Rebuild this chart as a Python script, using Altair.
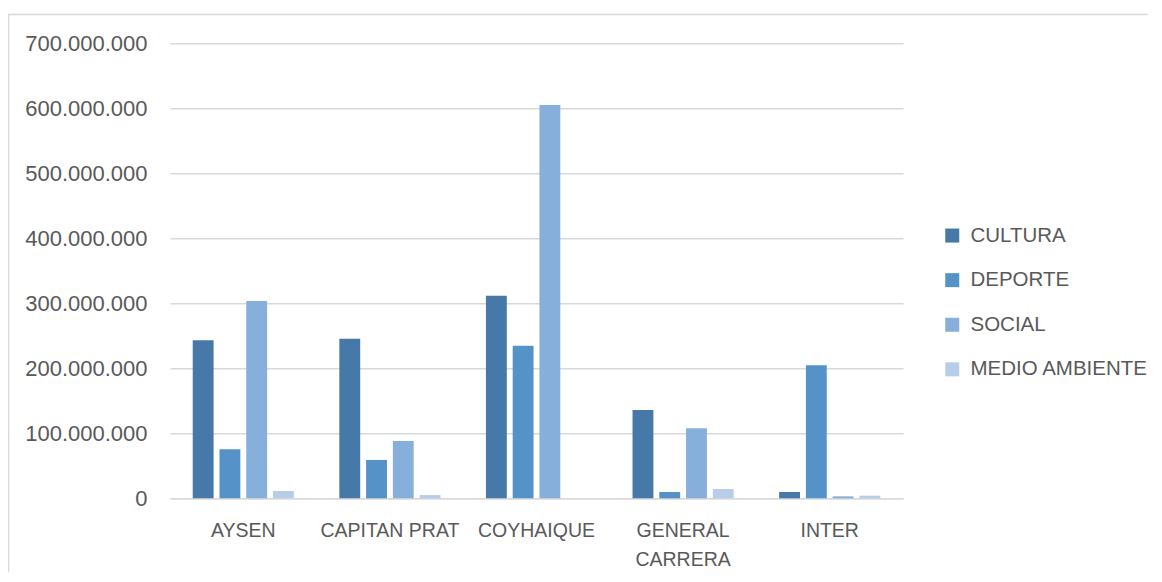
import altair as alt
import pandas as pd

categories = ["AYSEN", "CAPITAN PRAT", "COYHAIQUE", "GENERAL CARRERA", "INTER"]
series = ["CULTURA", "DEPORTE", "SOCIAL", "MEDIO AMBIENTE"]
cultura = [243000000, 245500000, 311700000, 136000000, 9700000]
deporte = [75500000, 59000000, 234800000, 9700000, 204600000]
social = [303500000, 88000000, 605000000, 107700000, 3000000]
medio_ambiente = [11200000, 5000000, 0, 14300000, 4000000]
colors = ["#4678a8", "#5592c8", "#86afdb", "#b8cee8"]
y_ticks = [0, 100000000, 200000000, 300000000, 400000000, 500000000, 600000000, 700000000]

rows = []
for s, vals in zip(series, [cultura, deporte, social, medio_ambiente]):
    for c, v in zip(categories, vals):
        rows.append({"comuna": c, "area": s, "monto": v})
df = pd.DataFrame(rows)

text_color = "#595959"
grid_color = "#d9d9d9"

bars = alt.Chart(df).mark_bar().encode(
    x=alt.X(
        "comuna:N",
        sort=categories,
        title=None,
        scale=alt.Scale(paddingInner=0.27, paddingOuter=0.135),
        axis=alt.Axis(
            labelAngle=0,
            ticks=False,
            domainColor=grid_color,
            domainWidth=1.5,
            labelColor=text_color,
            labelFont="Liberation Sans",
            labelFontSize=19.5,
            labelPadding=23,
            labelLineHeight=29,
            labelExpr="datum.label == 'GENERAL CARRERA' ? ['GENERAL', 'CARRERA'] : datum.label",
        ),
    ),
    xOffset=alt.XOffset(
        "area:N",
        sort=series,
        scale=alt.Scale(paddingInner=0.22, paddingOuter=0.11),
    ),
    y=alt.Y(
        "monto:Q",
        title=None,
        scale=alt.Scale(domain=[0, 700000000], nice=False),
        axis=alt.Axis(
            values=y_ticks,
            ticks=False,
            domain=False,
            gridColor=grid_color,
            gridWidth=1.5,
            labelColor=text_color,
            labelFont="Liberation Sans",
            labelFontSize=22,
            labelPadding=23,
            labelExpr="replace(format(datum.value, ','), /,/g, '.')",
        ),
    ),
    color=alt.Color(
        "area:N",
        sort=series,
        scale=alt.Scale(domain=series, range=colors),
        legend=alt.Legend(
            title=None,
            orient="none",
            legendX=772,
            legendY=182,
            symbolType="square",
            symbolSize=196,
            symbolStrokeWidth=0,
            labelFont="Liberation Sans",
            labelFontSize=20.5,
            labelColor=text_color,
            labelOffset=8,
            labelLimit=400,
            rowPadding=23.6,
            padding=0,
        ),
    ),
)

border = alt.Chart(pd.DataFrame({"a": [0]})).mark_rect(
    fill="transparent", stroke=grid_color, strokeWidth=1.5
).encode(
    x=alt.value(-161.5),
    x2=alt.value(1200),
    y=alt.value(-28.8),
    y2=alt.value(800),
)

chart = alt.layer(border, bars).properties(
    width=733,
    height=455,
    padding={"left": 162, "top": 35.3, "right": 245, "bottom": 74},
    autosize=alt.AutoSizeParams(type="none"),
    background="white",
).configure_view(stroke=None)

chart.save("out.html", embed_options={"renderer": "svg", "actions": False})
